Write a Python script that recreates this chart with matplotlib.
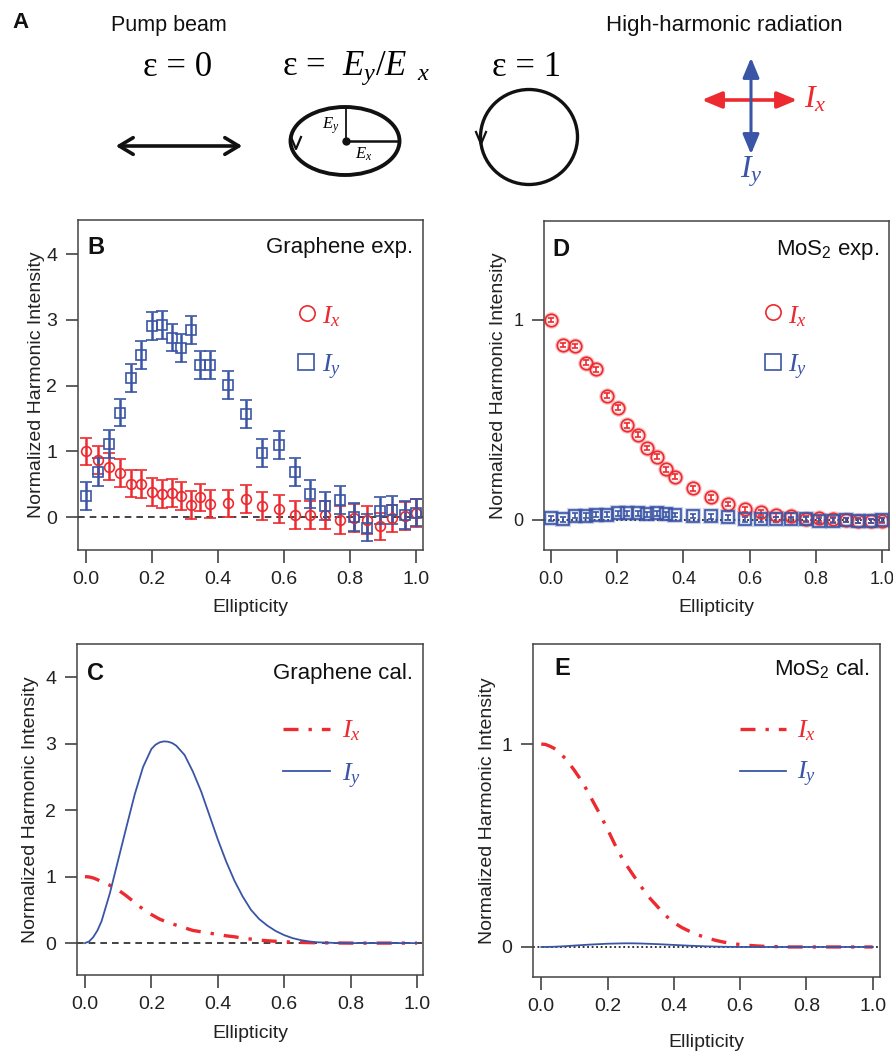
import matplotlib
matplotlib.use('Agg')
import matplotlib.pyplot as plt
from matplotlib.patches import Ellipse, FancyArrowPatch

plt.rcParams['font.family'] = ['Liberation Sans', 'DejaVu Sans']
plt.rcParams['mathtext.fontset'] = 'custom'
plt.rcParams['mathtext.it'] = 'Liberation Serif:italic'
plt.rcParams['mathtext.rm'] = 'Liberation Serif'
plt.rcParams['mathtext.default'] = 'it'

# ---------------- data ----------------
ellipticity = [0.0, 0.037, 0.072, 0.105, 0.137, 0.168, 0.201, 0.231, 0.262, 0.29,
               0.319, 0.347, 0.376, 0.43, 0.484, 0.534, 0.585, 0.634, 0.679, 0.725,
               0.769, 0.811, 0.851, 0.89, 0.928, 0.966, 1.0]

graphene_ix = [1.00, 0.87, 0.77, 0.67, 0.51, 0.50, 0.38, 0.35, 0.37, 0.32,
               0.18, 0.30, 0.20, 0.21, 0.28, 0.17, 0.12, 0.03, 0.03, 0.03,
               -0.04, -0.01, -0.04, -0.14, -0.02, 0.02, 0.06]
graphene_ix_err = [0.21, 0.21, 0.21, 0.21, 0.21, 0.21, 0.21, 0.21, 0.21, 0.21,
                   0.21, 0.21, 0.21, 0.21, 0.21, 0.21, 0.21, 0.21, 0.21, 0.21,
                   0.21, 0.21, 0.21, 0.21, 0.21, 0.21, 0.21]
graphene_iy = [0.32, 0.69, 1.11, 1.59, 2.12, 2.47, 2.91, 2.92, 2.73, 2.57,
               2.85, 2.31, 2.31, 2.01, 1.57, 0.98, 1.10, 0.69, 0.35, 0.17,
               0.26, 0.00, -0.16, 0.10, 0.11, 0.03, 0.07]
graphene_iy_err = [0.21, 0.21, 0.21, 0.21, 0.21, 0.21, 0.21, 0.21, 0.21, 0.21,
                   0.21, 0.21, 0.21, 0.21, 0.21, 0.21, 0.21, 0.21, 0.21, 0.21,
                   0.21, 0.21, 0.21, 0.21, 0.21, 0.21, 0.21]

mos2_ix = [1.00, 0.875, 0.87, 0.787, 0.753, 0.622, 0.562, 0.473, 0.427, 0.36,
           0.317, 0.253, 0.217, 0.158, 0.113, 0.08, 0.053, 0.038, 0.025, 0.022,
           0.007, 0.008, 0.003, 0.0, -0.005, -0.005, -0.003]
mos2_iy = [0.008, 0.003, 0.022, 0.022, 0.027, 0.027, 0.033, 0.033, 0.033, 0.028,
           0.033, 0.028, 0.025, 0.02, 0.018, 0.013, 0.003, 0.003, 0.003, 0.003,
           0.003, -0.003, -0.003, 0.0, -0.003, -0.005, 0.0]
mos2_err = [0.012, 0.012, 0.012, 0.012, 0.012, 0.012, 0.012, 0.012, 0.012, 0.012,
            0.012, 0.012, 0.012, 0.012, 0.012, 0.012, 0.012, 0.012, 0.012, 0.012,
            0.012, 0.012, 0.012, 0.012, 0.012, 0.012, 0.012]

calc_ellipticity = [0.0, 0.0125, 0.025, 0.0375, 0.05, 0.075, 0.1, 0.125, 0.15, 0.175,
                    0.2, 0.2125, 0.225, 0.2375, 0.25, 0.2625, 0.275, 0.3, 0.325, 0.35,
                    0.375, 0.4, 0.425, 0.45, 0.475, 0.5, 0.525, 0.55, 0.575, 0.6,
                    0.625, 0.65, 0.675, 0.7, 0.75, 0.8, 0.9, 1.0]
graphene_cal_ix = [1.0, 0.995, 0.98, 0.955, 0.92, 0.87, 0.80, 0.71, 0.61, 0.51,
                   0.43, 0.395, 0.36, 0.335, 0.31, 0.29, 0.27, 0.23, 0.19, 0.17,
                   0.15, 0.13, 0.11, 0.095, 0.075, 0.06, 0.045, 0.035, 0.027, 0.02,
                   0.014, 0.01, 0.007, 0.005, 0.002, 0.0, 0.0, 0.0]
graphene_cal_iy = [0.0, 0.025, 0.09, 0.19, 0.33, 0.75, 1.25, 1.75, 2.24, 2.65,
                   2.92, 2.985, 3.02, 3.035, 3.03, 3.01, 2.97, 2.83, 2.58, 2.28,
                   1.92, 1.56, 1.23, 0.94, 0.70, 0.50, 0.36, 0.26, 0.18, 0.12,
                   0.075, 0.045, 0.025, 0.012, 0.003, 0.0, 0.0, 0.0]
mos2_cal_ix = [1.0, 0.998, 0.99, 0.98, 0.965, 0.925, 0.87, 0.81, 0.735, 0.66,
               0.58, 0.537, 0.495, 0.457, 0.42, 0.39, 0.36, 0.30, 0.245, 0.2,
               0.155, 0.12, 0.095, 0.075, 0.058, 0.045, 0.033, 0.024, 0.017, 0.012,
               0.008, 0.005, 0.003, 0.002, 0.0, 0.0, 0.0, 0.0]
mos2_cal_iy = [0.0, 0.0002, 0.0005, 0.001, 0.002, 0.004, 0.007, 0.0095, 0.012, 0.014,
               0.016, 0.0165, 0.017, 0.0175, 0.018, 0.018, 0.018, 0.017, 0.0155, 0.014,
               0.012, 0.01, 0.008, 0.006, 0.0045, 0.003, 0.002, 0.001, 0.0005, 0.0,
               0.0, 0.0, 0.0, 0.0, 0.0, 0.0, 0.0, 0.0]

xticks = [0.0, 0.2, 0.4, 0.6, 0.8, 1.0]
xticklabels = ['0.0', '0.2', '0.4', '0.6', '0.8', '1.0']
graphene_yticks = [0, 1, 2, 3, 4]
mos2_yticks = [0, 1]

# ---------------- style ----------------
RED = '#EC2A2F'
BLUE = '#3A55A6'
DARK = '#333333'
W, H = 893, 1051
fig = plt.figure(figsize=(W / 100, H / 100), dpi=100)


def px_axes(l, t, r, b):
    return fig.add_axes([l / W, 1 - b / H, (r - l) / W, (b - t) / H])


def style(ax, xlim, ylim, yticks, ylab_x, xlab_y=-0.15, tsize=14):
    ax.set_xlim(*xlim)
    ax.set_ylim(*ylim)
    ax.set_xticks(xticks)
    ax.set_xticklabels(xticklabels)
    ax.set_yticks(yticks)
    ax.tick_params(direction='out', length=9, width=1.1, color=DARK,
                   labelsize=tsize, pad=6, labelcolor='#222222')
    for s in ax.spines.values():
        s.set_color('#444444')
        s.set_linewidth(1.1)
    ax.set_xlabel('Ellipticity', fontsize=14, color='#222222')
    ax.set_ylabel('Normalized Harmonic Intensity', fontsize=14, color='#222222')
    ax.xaxis.set_label_coords(0.5, xlab_y)
    ax.yaxis.set_label_coords(ylab_x, 0.5)


def panel_text(ax, letter, lx, title, tx, ty):
    ax.text(lx, ty, letter, transform=ax.transAxes, fontsize=17, fontweight='bold',
            ha='left', va='center', color='#111111')
    ax.text(tx, ty, title, transform=ax.transAxes, fontsize=16, ha='right',
            va='center', color='#111111')


def legend_text(ax, x, y, s, color):
    ax.text(x, y, s, transform=ax.transAxes, fontsize=19, color=color,
            ha='left', va='baseline')


# ---------------- panel B ----------------
axB = px_axes(78, 220, 423, 550)
style(axB, (-0.023, 1.021), (-0.5, 4.52), graphene_yticks, -0.095)
axB.axhline(0, color='#222222', lw=1.2, ls=(0, (4, 3)), zorder=1)
axB.errorbar(ellipticity, graphene_ix, yerr=graphene_ix_err, fmt='o', mfc='none',
             mec=RED, ecolor=RED, ms=7, mew=1.2, elinewidth=1.8, capsize=4.5,
             capthick=1.8, zorder=3)
axB.errorbar(ellipticity, graphene_iy, yerr=graphene_iy_err, fmt='s', mfc='none',
             mec=BLUE, ecolor=BLUE, ms=7, mew=1.2, elinewidth=1.8, capsize=4.5,
             capthick=1.8, zorder=3)
panel_text(axB, 'B', 0.026, 'Graphene exp.', 0.970, 0.918)
axB.plot([0.663], [0.719], 'o', ms=11, mfc='none', mec=RED, mew=1.2,
         transform=axB.transAxes, clip_on=False)
axB.plot([0.661], [0.571], 's', ms=11, mfc='none', mec=BLUE, mew=1.2,
         transform=axB.transAxes, clip_on=False)
legend_text(axB, 0.706, 0.687, r'$I_x$', RED)
legend_text(axB, 0.706, 0.538, r'$I_y$', BLUE)

# ---------------- panel D ----------------
axD = px_axes(544, 221, 889, 550)
style(axD, (-0.021, 1.021), (-0.15, 1.495), mos2_yticks, -0.107, tsize=13)
axD.axhline(0, color='#222222', lw=1.3, ls=(0, (1, 1.5)), zorder=1)
axD.plot(ellipticity, mos2_ix, 'o', ms=9, mfc='none', mec=RED, mew=3.0,
         alpha=0.25, zorder=2)
axD.plot(ellipticity, mos2_iy, 's', ms=9, mfc='none', mec=BLUE, mew=3.0,
         alpha=0.25, zorder=2)
axD.errorbar(ellipticity, mos2_ix, yerr=mos2_err, fmt='o', mfc='none', mec=RED,
             ecolor=RED, ms=9, mew=1.2, elinewidth=1.2, capsize=2.5,
             capthick=1.2, zorder=3)
axD.errorbar(ellipticity, mos2_iy, yerr=mos2_err, fmt='s', mfc='none', mec=BLUE,
             ecolor=BLUE, ms=9, mew=1.2, elinewidth=1.2, capsize=2.5,
             capthick=1.2, zorder=3)
panel_text(axD, 'D', 0.025, r'MoS$\mathregular{_2}$ exp.', 0.971, 0.912)
axD.plot([0.663], [0.724], 'o', ms=11, mfc='none', mec=RED, mew=1.2,
         transform=axD.transAxes, clip_on=False)
axD.plot([0.663], [0.572], 's', ms=11, mfc='none', mec=BLUE, mew=1.2,
         transform=axD.transAxes, clip_on=False)
legend_text(axD, 0.708, 0.689, r'$I_x$', RED)
legend_text(axD, 0.708, 0.539, r'$I_y$', BLUE)

# ---------------- panel C ----------------
axC = px_axes(77, 644, 423, 975)
style(axC, (-0.024, 1.018), (-0.48, 4.5), graphene_yticks, -0.11)
axC.axhline(0, color='#222222', lw=1.2, ls=(0, (4, 3)), zorder=1)
DASHDOT = (0, (4.5, 3, 1, 3))
axC.plot(calc_ellipticity, graphene_cal_ix, color=RED, lw=2.4, ls=DASHDOT, zorder=3)
axC.plot(calc_ellipticity, graphene_cal_iy, color=BLUE, lw=1.3, zorder=3)
panel_text(axC, 'C', 0.030, 'Graphene cal.', 0.971, 0.912)
axC.plot([0.595, 0.731], [0.743, 0.743], color=RED, lw=2.4, ls=DASHDOT,
         transform=axC.transAxes)
axC.plot([0.595, 0.731], [0.617, 0.617], color=BLUE, lw=1.3,
         transform=axC.transAxes)
legend_text(axC, 0.765, 0.718, r'$I_x$', RED)
legend_text(axC, 0.765, 0.584, r'$I_y$', BLUE)

# ---------------- panel E ----------------
axE = px_axes(533, 644, 880, 977)
style(axE, (-0.025, 1.022), (-0.148, 1.493), mos2_yticks, -0.107, xlab_y=-0.17)
axE.axhline(0, color='#222222', lw=1.3, ls=(0, (1, 1.5)), zorder=1)
axE.plot(calc_ellipticity, mos2_cal_ix, color=RED, lw=2.4, ls=DASHDOT, zorder=3)
axE.plot(calc_ellipticity, mos2_cal_iy, color=BLUE, lw=1.3, zorder=3)
panel_text(axE, 'E', 0.063, r'MoS$\mathregular{_2}$ cal.', 0.971, 0.925)
axE.plot([0.597, 0.729], [0.745, 0.745], color=RED, lw=2.4, ls=DASHDOT,
         transform=axE.transAxes)
axE.plot([0.597, 0.729], [0.620, 0.620], color=BLUE, lw=1.3,
         transform=axE.transAxes)
legend_text(axE, 0.760, 0.720, r'$I_x$', RED)
legend_text(axE, 0.760, 0.594, r'$I_y$', BLUE)

# ---------------- panel A (schematic) ----------------
axA = fig.add_axes([0, 0, 1, 1], zorder=-1)
axA.set_xlim(0, W)
axA.set_ylim(H, 0)
axA.axis('off')
axA.patch.set_visible(False)

axA.text(12, 22, 'A', fontsize=16, fontweight='bold', ha='left', va='center',
         color='#111111')
axA.text(169, 25, 'Pump beam', fontsize=15.5, ha='center', va='center', color='#111111')
axA.text(724, 25, 'High-harmonic radiation', fontsize=16, ha='center', va='center',
         color='#111111')
SERIF = ['Liberation Serif', 'DejaVu Serif']
axA.text(178, 68, '\u03b5 = 0', fontsize=25, family=SERIF, ha='center', va='center')
axA.text(356, 68, '\u03b5 =  $E_y/E_{\\ \\ x}$', fontsize=25, family=SERIF,
         ha='center', va='center')
axA.text(527, 68, '\u03b5 = 1', fontsize=25, family=SERIF, ha='center', va='center')

# linear polarization double arrow
axA.add_patch(FancyArrowPatch((113, 146), (245, 146),
                              arrowstyle='<->,head_length=10,head_width=6',
                              mutation_scale=1, lw=2.6, color='#111111'))
# ellipse
axA.add_patch(Ellipse((345, 141), 109, 68, fill=False, lw=2.8, color='#111111'))
axA.plot([346, 346], [141, 108], color='#111111', lw=1.3)
axA.plot([346, 399], [141, 141], color='#111111', lw=1.8)
axA.plot([346], [141], 'o', color='#111111', ms=5)
axA.plot([291, 296, 301], [137, 149, 137], color='#111111', lw=1.6)
axA.text(331, 126, '$E_y$', fontsize=12, ha='center', va='center')
axA.text(364, 154, '$E_x$', fontsize=12, ha='center', va='center')
# circle
axA.add_patch(Ellipse((529, 137), 97, 95, fill=False, lw=2.4, color='#111111'))
axA.plot([476, 481, 486], [132, 144, 132], color='#111111', lw=1.6)
# harmonic radiation arrows
axA.add_patch(FancyArrowPatch((699, 100), (800, 100),
                              arrowstyle='<|-|>,head_length=12,head_width=5',
                              mutation_scale=1, lw=2.6, color=RED))
axA.add_patch(FancyArrowPatch((751, 55), (751, 157),
                              arrowstyle='<|-|>,head_length=12,head_width=5',
                              mutation_scale=1, lw=2.2, color=BLUE))
axA.text(804, 100, '$I_x$', fontsize=23, color=RED, ha='left', va='center')
axA.text(740, 172, '$I_y$', fontsize=23, color=BLUE, ha='left', va='center')

fig.savefig('out.png', dpi=100)
